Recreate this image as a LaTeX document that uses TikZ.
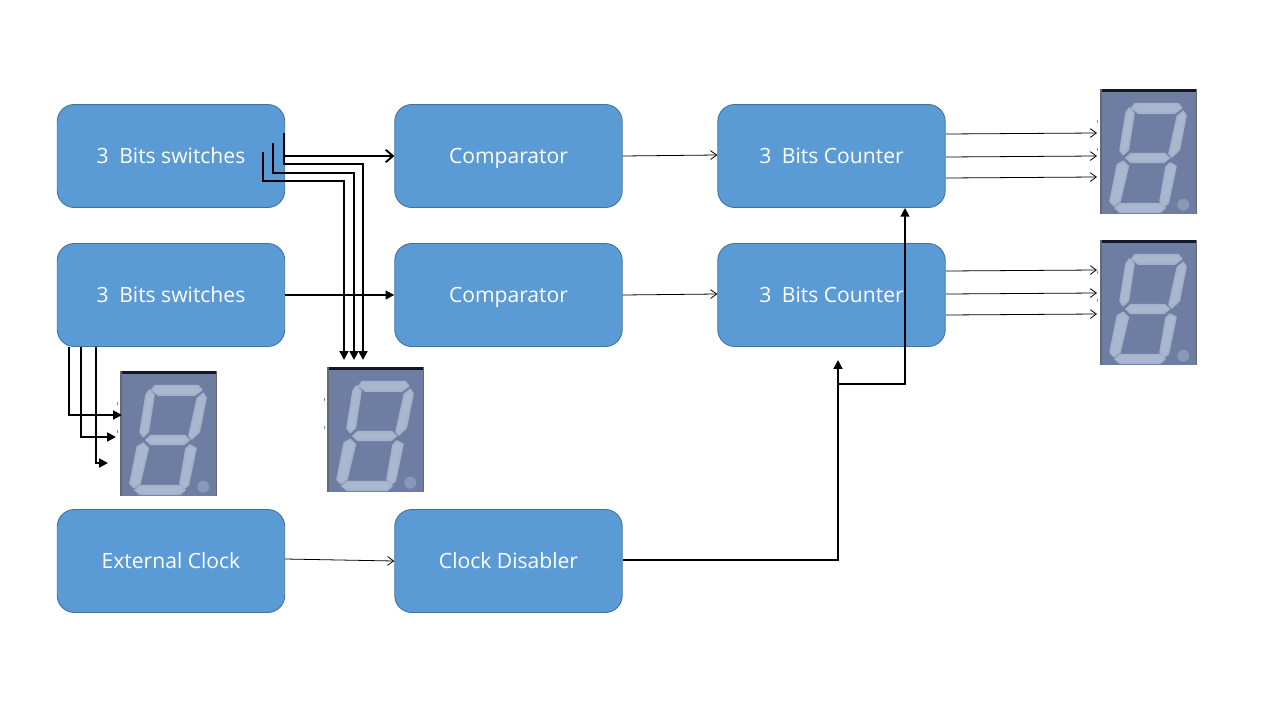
\documentclass[tikz,border=0pt]{standalone}
\usepackage{fontspec}
\setmainfont{Open Sans}
\usetikzlibrary{arrows.meta}
\definecolor{blockfill}{HTML}{5B9BD5}
\definecolor{blockline}{HTML}{41719C}
\definecolor{dispbody}{HTML}{6E7EA3}
\definecolor{dispseg}{HTML}{A9B7CF}
\definecolor{dispedge}{HTML}{14172A}
\tikzset{
	blockbox/.style={draw=blockline, fill=blockfill, rounded corners=0.34cm, line width=0.5pt, minimum width=4.55cm, minimum height=2.06cm, inner sep=0pt, text=white, text height=10pt, text depth=1.5pt, font=\fontsize{12}{14}\selectfont},
	dispbox/.style={fill=dispbody, minimum width=1.94cm, minimum height=2.5cm, inner sep=0pt, anchor=north west},
	seg/.style={fill=dispseg, draw=dispseg!90!dispbody, line width=0.9pt, line join=round},
	thinline/.style={line width=0.45pt, -{Straight Barb[length=3.5pt, width=5pt]}},
	thickline/.style={line width=1.1pt, -{Triangle[length=5pt, width=5pt]}},
	barbline/.style={line width=1.1pt, -{Straight Barb[length=4pt, width=7pt]}},
}
% one seven segment display, #1 name, #2 top left corner
\newcommand{\segdisplay}[2]{
	\node[dispbox] (#1) at (#2) {};
	\begin{scope}[shift={(#1.north west)}]
		\fill[dispedge] (0,0) rectangle (97,3);
		\fill[dispedge!65] (0,0) rectangle (1.5,125);
		\fill[dispedge!65] (95.5,0) rectangle (97,125);
		\path[seg] (31.7,19) -- (35,14.7) -- (78.3,14.7) -- (81.7,19) -- (75,24) -- (38.3,24) -- cycle;
		\path[seg] (77.3,27.3) -- (83.3,22.3) -- (86,26.7) -- (79.3,60.7) -- (71.7,68) -- (69,64.7) -- cycle;
		\path[seg] (29.3,19) -- (34,24) -- (28.3,60.7) -- (23.3,65.7) -- (20,61.3) -- (26,24) -- cycle;
		\path[seg] (26,69) -- (30.7,64.7) -- (65,64.7) -- (69.3,69) -- (64,73.3) -- (30.7,73.3) -- cycle;
		\path[seg] (23.3,72.3) -- (28.3,77.3) -- (20,112.3) -- (14,116.7) -- (10,112.3) -- (17.3,75.7) -- cycle;
		\path[seg] (70,74) -- (76,77.3) -- (68.3,114) -- (64,117.3) -- (60,112.3) -- (66,78) -- cycle;
		\path[seg] (15,119) -- (20,114.7) -- (60,114.7) -- (65,119) -- (60,123.3) -- (20,123.3) -- cycle;
		\fill[dispseg!45!dispbody] (83.3,115.7) circle (6);
		\fill[blockfill] (-3.5,31) rectangle (-2.5,34);
		\fill[blockfill] (-3.5,59) rectangle (-2.5,62);
	\end{scope}
}
\begin{document}
\begin{tikzpicture}[x=0.02cm, y=-0.02cm]
	\useasboundingbox (0,0) rectangle (1280,720);
	% blocks
	\node[blockbox] (sw1) at (171,156) {3\,\,\,Bits switches};
	\node[blockbox] (sw2) at (171,295) {3\,\,\,Bits switches};
	\node[blockbox] (clk) at (171,561) {External Clock};
	\node[blockbox] (cmp1) at (508.5,156) {Comparator};
	\node[blockbox] (cmp2) at (508.5,295) {Comparator};
	\node[blockbox] (dis) at (508.5,561) {Clock Disabler};
	\node[blockbox] (ctr1) at (831.5,156) {3\,\,\,Bits Counter};
	\node[blockbox] (ctr2) at (831.5,295) {3\,\,\,Bits Counter};
	% displays
	\segdisplay{disp1}{1100,89}
	\segdisplay{disp2}{1100,240}
	\segdisplay{disp3}{120,371}
	\segdisplay{disp4}{327,367}
	% free ends
	\coordinate (a1) at (284,133);
	\coordinate (a2) at (273,143);
	\coordinate (a3) at (263,152);
	\coordinate (b1) at (363,360);
	\coordinate (b2) at (354,360);
	\coordinate (b3) at (344,360);
	\coordinate (c1) at (69,347);
	\coordinate (c2) at (81,347);
	\coordinate (c3) at (96,347);
	\coordinate (d1) at (122,415);
	\coordinate (d2) at (116,437);
	\coordinate (d3) at (108,463);
	\coordinate (e1) at (838,360);
	\coordinate (e2) at (838,384);
	\coordinate (e3) at (905,384);
	% first switches
	\draw[barbline] (sw1.east) -- (cmp1.west);
	\draw[line width=1.1pt] (a1) -- (284,156);
	\draw[thickline] (a1) |- (363,164) -- (b1);
	\draw[thickline] (a2) |- (354,173) -- (b2);
	\draw[thickline] (a3) |- (344,181) -- (b3);
	% second switches
	\draw[thickline] (sw2.east) -- (cmp2.west);
	\draw[thickline] (c1) |- (d1);
	\draw[thickline] (c2) |- (d2);
	\draw[thickline] (c3) |- (d3);
	% thin links
	\draw[thinline] (cmp1.east) -- ([yshift=0.02cm]ctr1.west);
	\draw[thinline] (cmp2.east) -- ([yshift=0.02cm]ctr2.west);
	\draw[thinline] ([yshift=0.04cm]clk.east) -- (dis.west);
	% counter outputs
	\foreach \yy/\zz in {134/133, 157/156, 178/177}
		\draw[thinline] (946,\yy) -- (1097,\zz);
	\foreach \yy/\zz in {271/270, 294/293, 315/314}
		\draw[thinline] (946,\yy) -- (1097,\zz);
	% clock
	\draw[thickline] ([yshift=0.02cm]dis.east) -| (e1);
	\draw[thickline] (e2) -- (e3) -- (e3 |- ctr1.south);
\end{tikzpicture}
\end{document}
